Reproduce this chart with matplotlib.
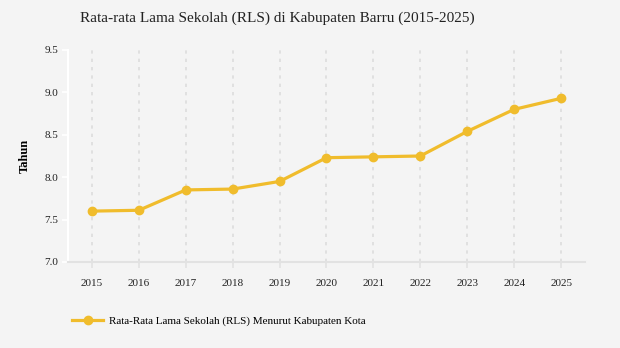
import matplotlib
matplotlib.use("Agg")
import matplotlib.pyplot as plt

tahun = [2015, 2016, 2017, 2018, 2019, 2020, 2021, 2022, 2023, 2024, 2025]
rls = [7.60, 7.61, 7.85, 7.86, 7.95, 8.23, 8.24, 8.25, 8.54, 8.80, 8.93]
yticks = [7.0, 7.5, 8.0, 8.5, 9.0, 9.5]

bg = "#f4f4f4"
kuning = "#f0bc2c"

plt.rcParams["font.family"] = ["Liberation Serif", "DejaVu Serif"]

fig = plt.figure(figsize=(6.2, 3.48), dpi=100, facecolor=bg)
ax = fig.add_axes([68 / 620, 1 - 262 / 348, (585 - 68) / 620, (262 - 50) / 348])
ax.set_facecolor(bg)

ax.plot(tahun, rls, color=kuning, lw=2.3, marker="o", ms=6,
        label="Rata-Rata Lama Sekolah (RLS) Menurut Kabupaten Kota", zorder=3)

ax.set_xlim(tahun[0] - 0.51, tahun[-1] + 0.51)
ax.set_ylim(7.0, 9.5)
ax.set_xticks(tahun)
ax.set_xticklabels([str(t) for t in tahun], fontsize=8, color="#222222")
ax.set_yticks(yticks)
ax.set_yticklabels([f"{v:.1f}" for v in yticks], fontsize=8, color="#222222")

ax.grid(axis="x", color="#dddddd", ls=(0, (2, 3)), lw=1.2)
for s in ["top", "right"]:
    ax.spines[s].set_visible(False)
ax.spines["left"].set_color("white")
ax.spines["left"].set_linewidth(1.5)
ax.spines["bottom"].set_color("#e2e2e2")
ax.spines["bottom"].set_linewidth(1.5)
ax.tick_params(axis="y", colors="white", labelcolor="#222222", length=4, width=1.2, pad=3)
ax.tick_params(axis="x", colors="#e2e2e2", labelcolor="#222222", length=4, width=1.2, pad=8)

ax.set_ylabel("Tahun", fontsize=9, fontweight="bold", labelpad=10)

fig.text(80 / 620, 1 - 18 / 348, "Rata-rata Lama Sekolah (RLS) di Kabupaten Barru (2015-2025)",
         fontsize=11.0, va="center", ha="left", color="#222222")

fig.legend(loc="center left", bbox_to_anchor=(62 / 620, 1 - 321 / 348), frameon=False,
           fontsize=8, handlelength=2.8, handletextpad=0.5)

fig.savefig("out.png", dpi=100, facecolor=bg)
